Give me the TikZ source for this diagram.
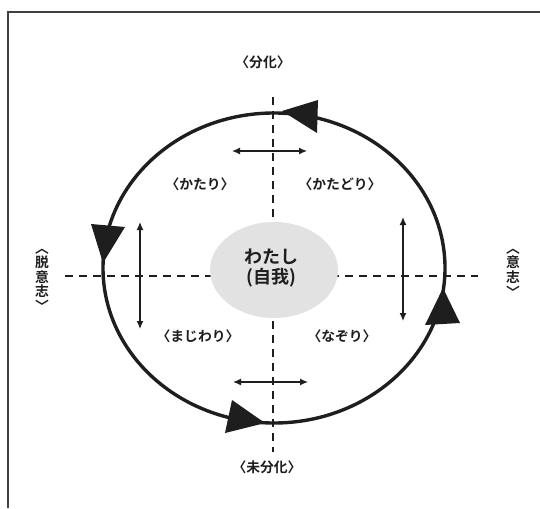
\documentclass[tikz,border=0pt]{standalone}
\usepackage{fontspec}
\newfontfamily\jp{Noto Sans CJK JP}[BoldFont=* Bold]
\usetikzlibrary{arrows.meta}
\definecolor{ink}{HTML}{1E1E1E}
\definecolor{selfgray}{HTML}{E2E2E2}
\begin{document}
\begin{tikzpicture}[x=1pt,y=-1pt,
  frameline/.style={line width=2pt,draw=ink!85},
  axisline/.style={line width=2.4pt,draw=ink,dash pattern=on 8pt off 6pt},
  cycleline/.style={line width=3.4pt,draw=ink},
  headtri/.style={fill=ink},
  swing/.style={line width=1.3pt,draw=ink,{Latex[length=8pt,width=7pt]}-{Latex[length=8pt,width=7pt]}},
  lbl/.style={text=ink,font=\jp\bfseries\fontsize{13.8}{14.6}\selectfont,inner sep=0pt},
  vlbl/.style={lbl,align=center},
  selflbl/.style={text=ink,font=\jp\bfseries\fontsize{18}{20}\selectfont,align=center,inner sep=0pt}]
\useasboundingbox (0,0) rectangle (540,508);

% open frame: top and left edges only
\coordinate (fr1) at (540,12);
\coordinate (fr2) at (8,12);
\coordinate (fr3) at (8,508);
\draw[frameline] (fr1) -- (fr2) -- (fr3);

% dashed axes
\coordinate (ax-top) at (273,97);
\coordinate (ax-bot) at (273,452);
\coordinate (ax-left) at (65,276);
\coordinate (ax-right) at (478,276);
\draw[axisline] (ax-top) -- (ax-bot);
\draw[axisline] (ax-left) -- (ax-right);

% the cycle
\coordinate (cyc) at (274,268);
\draw[cycleline] (cyc) ellipse [x radius=171, y radius=155];

% arrowheads on the cycle (counterclockwise)
\fill[headtri] (282,111) -- (318,100) -- (317,133) -- cycle;
\fill[headtri] (103,263) -- (91,224) -- (125,227) -- cycle;
\fill[headtri] (265,423) -- (232,400) -- (225,433) -- cycle;
\fill[headtri] (443,288) -- (460,323) -- (425,325) -- cycle;

% self in the middle
\fill[selfgray] (274,270) ellipse [x radius=64, y radius=48];
\node[selflbl] (self) at (271,268) {わたし\\(自我)};

% small two-way arrows
\coordinate (tw1) at (232,151); \coordinate (tw2) at (307,151);
\coordinate (bw1) at (233,382); \coordinate (bw2) at (308,382);
\coordinate (lw1) at (140,222); \coordinate (lw2) at (140,329);
\coordinate (rw1) at (403,217); \coordinate (rw2) at (403,321);
\draw[swing] (tw1) -- (tw2);
\draw[swing] (bw1) -- (bw2);
\draw[swing] (lw1) -- (lw2);
\draw[swing] (rw1) -- (rw2);

% axis labels
\node[lbl] (bunka) at (263,62) {〈分化〉};
\node[lbl] (mibunka) at (267,467) {〈未分化〉};
\node[vlbl] (datsu) at (42,280) {︿\\脱\\意\\志\\﹀};
\node[vlbl] (ishi) at (513,273) {︿\\意\\志\\﹀};

% quadrant labels
\node[lbl] (katari) at (200,184) {〈かたり〉};
\node[lbl] (katadori) at (340,184) {〈かたどり〉};
\node[lbl] (majiwari) at (198,336) {〈まじわり〉};
\node[lbl] (nazori) at (342,336) {〈なぞり〉};
\end{tikzpicture}
\end{document}
